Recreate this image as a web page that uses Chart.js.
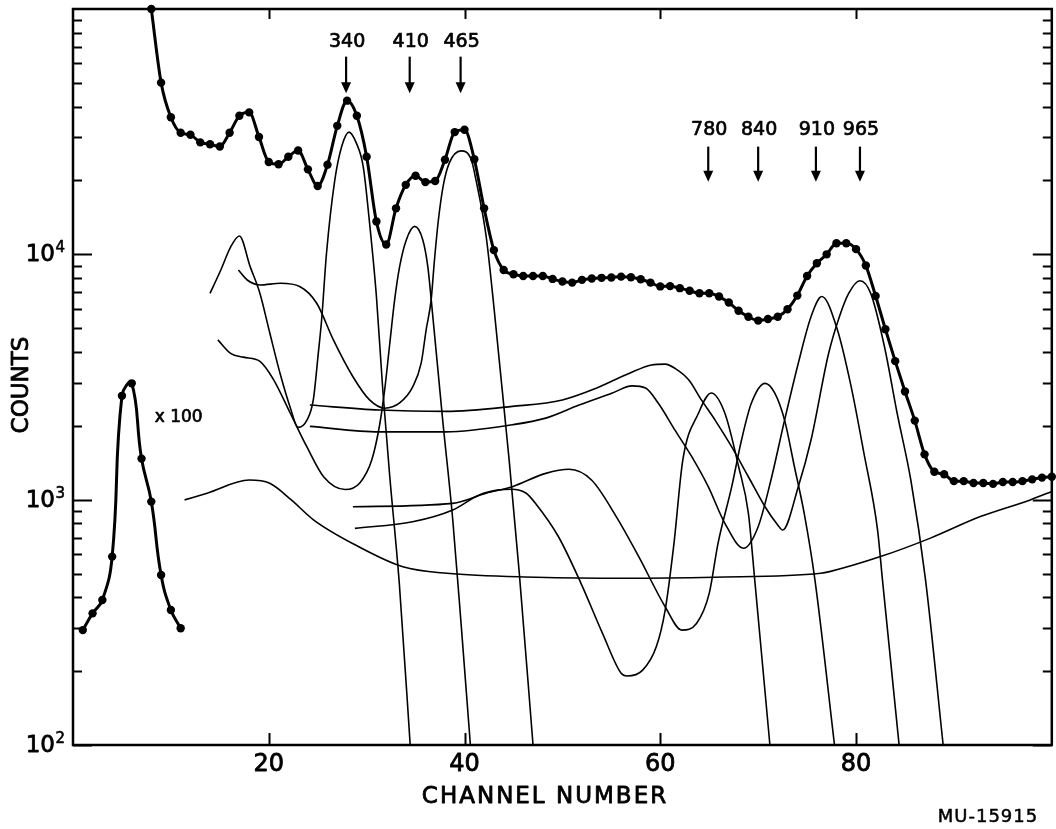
<!DOCTYPE html>
<html>
<head>
<meta charset="utf-8">
<script src="https://cdn.jsdelivr.net/npm/chart.js@4.4.1/dist/chart.umd.min.js"></script>
<style>
  html, body { margin: 0; padding: 0; background: #fff; }
  canvas { display: block; }
</style>
</head>
<body>
<canvas id="c" width="1056" height="829"></canvas>
<script>
// Measured gamma spectrum (counts per channel)
const spectrumChannels = [8, 9, 10, 11, 12, 13, 14, 15, 16, 17, 18, 19, 20, 21, 22, 23, 24, 25, 26, 27, 28, 29,
  30, 31, 32, 33, 34, 35, 36, 37, 38, 39, 40, 41, 42, 43, 44, 45, 46, 47, 48, 49, 50, 51, 52, 53, 54, 55, 56,
  57, 58, 59, 60, 61, 62, 63, 64, 65, 66, 67, 68, 69, 70, 71, 72, 73, 74, 75, 76, 77, 78, 79, 80, 81, 82, 83,
  84, 85, 86, 87, 88, 89, 90, 91, 92, 93, 94, 95, 96, 97, 98, 99, 100];
const spectrumCounts = [100000, 50100, 36200, 31300, 30700, 28600, 28100, 27500, 31300, 36700, 37900, 30100,
  23800, 23300, 25000, 26500, 22200, 19000, 23200, 33400, 42300, 36700, 25000, 13600, 10960, 15400, 19200,
  20900, 19700, 19900, 24300, 31500, 32200, 24400, 15400, 10400, 8630, 8300, 8160, 8160, 8160, 7940, 7750,
  7670, 7870, 7970, 8020, 8050, 8110, 8070, 7910, 7670, 7400, 7420, 7280, 7100, 6940, 6940, 6730, 6360, 5890,
  5570, 5370, 5450, 5570, 5970, 6790, 8160, 9200, 10000, 11100, 11100, 10500, 9000, 6760, 4950, 3670, 2760,
  2100, 1530, 1300, 1270, 1190, 1190, 1170, 1170, 1160, 1180, 1180, 1190, 1210, 1230, 1240];

// Low-channel peak, plotted scaled down by 100
const lowChannels = [1, 2, 3, 4, 5, 6, 7, 8, 9, 10, 11];
const lowCounts = [294, 344, 390, 586, 2650, 2980, 1470, 982, 493, 355, 299];

// Resolved components, [channel, counts]
const backgroundCurve = [[11.4, 998], [13.7, 1062], [18.0, 1202], [20.1, 1166], [22.3, 998], [24.6, 826],
  [29.2, 643], [33.7, 533], [38.2, 501], [47.3, 483], [56.4, 478], [65.5, 483], [76.4, 501], [77.3, 509],
  [82.5, 586], [87.6, 697], [92.7, 853], [97.8, 998], [100, 1080]];
const curve340 = [[14.0, 6930], [15.1, 8630], [16.1, 10700], [17.0, 11880], [18.1, 8910], [19.1, 6930],
  [20.1, 4790], [21.2, 3220], [22.2, 2370], [23.0, 1970], [23.9, 2110], [24.55, 2550], [25.06, 3950],
  [25.4, 5400], [25.9, 10100], [26.75, 20100], [27.45, 27500], [28.2, 31500], [28.95, 28400], [29.65, 22800],
  [30.3, 13400], [31.0, 6730], [31.65, 2800], [32.35, 1260], [33.35, 449], [34.45, 100]];
const curve410 = [[14.8, 4480], [16.1, 3950], [17.4, 3810], [19.1, 3660], [20.5, 3080], [22.2, 2250],
  [23.9, 1640], [25.6, 1240], [27.8, 1100], [29.3, 1170], [30.52, 1450], [31.33, 2020], [31.84, 2800],
  [32.35, 4280], [32.86, 6520], [33.37, 8910], [34.05, 11450], [34.9, 13000], [35.74, 11450], [36.25, 8910],
  [36.6, 6520], [37.77, 2110], [38.8, 826], [39.7, 294], [40.6, 100]];
const curve465 = [[16.9, 8630], [17.8, 7860], [19.1, 7500], [21.2, 7620], [23.2, 7380], [24.9, 6320],
  [26.6, 4480], [28.6, 3170], [30.3, 2550], [31.84, 2360], [33.37, 2480], [34.72, 2890], [35.57, 3600],
  [36.08, 4920], [36.59, 6520], [36.93, 9480], [37.33, 13800], [37.84, 19200], [38.45, 23600], [39.64, 26400],
  [40.69, 24300], [41.17, 20100], [42.19, 12000], [42.93, 6520], [43.54, 3720], [44.56, 1450], [45.57, 516],
  [47.0, 100]];
const curve780 = [[28.8, 764], [34.7, 813], [38.8, 908], [41.5, 1045], [43.5, 1096], [44.8, 1103], [46.3, 1062],
  [47.3, 960], [49.6, 706], [51.9, 456], [54.1, 285], [56.0, 196], [56.6, 191], [58.2, 202],
  [59.6, 252], [60.5, 355], [61.4, 664], [62.3, 1450], [63.9, 2250], [65.2, 2720], [66.6, 2250], [68.0, 1365],
  [69.0, 881], [69.65, 471], [71.2, 100]];
const curve840 = [[28.6, 936], [38.8, 966], [42.2, 1062], [44.9, 1130], [48.3, 1280], [50.7, 1330], [53.0, 1200],
  [55.5, 853], [57.8, 586], [60.5, 366], [62.2, 294], [63.7, 313], [65.0, 415], [65.9, 664], [67.3, 1130],
  [68.3, 1750], [69.3, 2470], [70.7, 2980], [71.7, 2720], [72.7, 2110], [73.7, 1365], [74.7, 881], [75.8, 471],
  [77.8, 100]];
const curve910 = [[24.2, 1990], [31.3, 1890], [38.1, 1890], [44.9, 2020], [48.3, 2150], [51.7, 2430],
  [55.1, 2720], [57.1, 2910], [58.5, 2850], [59.8, 2470], [61.5, 1920], [63.2, 1500], [64.9, 1130], [66.6, 801],
  [68.5, 634], [70.0, 776], [71.3, 1200], [72.7, 2110], [74.1, 3600], [75.4, 5570], [76.5, 6730], [78.1, 4920],
  [79.5, 2890], [80.8, 1550], [82.2, 752], [82.7, 471], [84.4, 100]];
const curve965 = [[24.2, 2430], [31.3, 2320], [38.1, 2290], [44.9, 2400], [50.0, 2550], [53.4, 2840],
  [56.8, 3270], [59.1, 3540], [60.5, 3570], [61.5, 3430], [62.9, 3080], [64.2, 2550], [65.6, 2110], [67.3, 1640],
  [69.0, 1240], [70.7, 936], [72.0, 789], [72.5, 752], [74.1, 1130], [75.4, 1750], [77.2, 3950], [78.3, 5570],
  [79.25, 6930], [80.4, 7800], [81.5, 6930], [82.9, 4210], [84.2, 2250], [85.6, 1200], [87.1, 471], [88.9, 100]];

// Energy markers (keV) above the peaks
const markerLabels = ['340', '410', '465', '780', '840', '910', '965'];
const markerChannels = [27.9, 34.4, 39.6, 64.9, 70.0, 75.9, 80.4];
const markerTipCounts = [45400, 45400, 45400, 19780, 19780, 19780, 19780];
const markerTailCounts = [63950, 63950, 63950, 27480, 27480, 27480, 27480];
const markerTextCounts = [73450, 73450, 73450, 32140, 32140, 32140, 32140];

const xTickValues = [20, 40, 60, 80];
const yDecades = [100, 1000, 10000];
const yDecadeLabels = [['10', '2'], ['10', '3'], ['10', '4']];

const FONT = '"DejaVu Sans", sans-serif';
const toPoints = pairs => pairs.map(([x, y]) => ({ x, y }));
const zip = (xs, ys) => xs.map((x, i) => ({ x, y: ys[i] }));

const thin = (data) => ({
  data: toPoints(data),
  borderColor: '#000',
  borderWidth: 1.6,
  pointRadius: 0,
  fill: false,
  tension: 0.4,
  cubicInterpolationMode: 'monotone'
});

// filled text with a light outline, for the heavier lettering
function letter(ctx, text, x, y, weight) {
  ctx.fillText(text, x, y);
  ctx.lineWidth = weight;
  ctx.strokeText(text, x, y);
}

const framePlugin = {
  id: 'frame',
  afterDraw(chart) {
    const { ctx, chartArea: a } = chart;
    const xs = chart.scales.x, ys = chart.scales.y;
    ctx.save();
    ctx.strokeStyle = '#000';
    ctx.fillStyle = '#000';
    ctx.lineCap = 'butt';

    // frame
    ctx.lineWidth = 2.5;
    ctx.strokeRect(a.left, a.top, a.right - a.left, a.bottom - a.top);

    // inward ticks on the log axes
    ctx.lineWidth = 2;
    for (let e = 2; e <= 4; e++) {
      for (let m = 1; m <= 9; m++) {
        const v = m * Math.pow(10, e);
        const y = Math.round(ys.getPixelForValue(v)) + 0.5;
        const len = m === 1 ? 19 : 9;
        ctx.beginPath();
        ctx.moveTo(a.left, y); ctx.lineTo(a.left + len, y);
        ctx.moveTo(a.right, y); ctx.lineTo(a.right - len, y);
        ctx.stroke();
      }
    }
    // inward ticks on the channel axes
    xTickValues.forEach(v => {
      const x = Math.round(xs.getPixelForValue(v)) + 0.5;
      ctx.beginPath();
      ctx.moveTo(x, a.bottom); ctx.lineTo(x, a.bottom - 12);
      ctx.moveTo(x, a.top); ctx.lineTo(x, a.top + 10);
      ctx.stroke();
    });

    // tick labels
    ctx.lineJoin = 'round';
    ctx.font = '24px ' + FONT;
    ctx.textAlign = 'center';
    ctx.textBaseline = 'middle';
    xTickValues.forEach(v => letter(ctx, String(v), xs.getPixelForValue(v), a.bottom + 20, 0.8));
    yDecades.forEach((v, i) => {
      const y = ys.getPixelForValue(v);
      ctx.font = '23px ' + FONT;
      ctx.textAlign = 'right';
      ctx.textBaseline = 'middle';
      letter(ctx, yDecadeLabels[i][0], 55, y + 1, 0.8);
      ctx.font = '15px ' + FONT;
      ctx.textAlign = 'left';
      letter(ctx, yDecadeLabels[i][1], 55.5, y - 6, 0.6);
    });

    // axis titles
    ctx.font = '23px ' + FONT;
    ctx.textAlign = 'center';
    ctx.textBaseline = 'middle';
    ctx.letterSpacing = '2px';
    letter(ctx, 'CHANNEL NUMBER', 545, 797, 0.8);
    ctx.letterSpacing = '0px';
    ctx.save();
    ctx.translate(22, 385);
    ctx.rotate(-Math.PI / 2);
    letter(ctx, 'COUNTS', 0, 0, 0.8);
    ctx.restore();

    // energy markers
    markerChannels.forEach((c, i) => {
      const x = xs.getPixelForValue(c);
      const yTip = ys.getPixelForValue(markerTipCounts[i]);
      const yTail = ys.getPixelForValue(markerTailCounts[i]);
      ctx.lineWidth = 2.2;
      ctx.beginPath();
      ctx.moveTo(x, yTail); ctx.lineTo(x, yTip - 8);
      ctx.stroke();
      ctx.beginPath();
      ctx.moveTo(x - 5, yTip - 11); ctx.lineTo(x + 5, yTip - 11); ctx.lineTo(x, yTip);
      ctx.closePath(); ctx.fill();
      ctx.font = '19px ' + FONT;
      ctx.textAlign = 'center';
      ctx.textBaseline = 'middle';
      letter(ctx, markerLabels[i], x + 1, ys.getPixelForValue(markerTextCounts[i]), 0.7);
    });

    // scale note on the low-channel peak
    ctx.font = '17px ' + FONT;
    ctx.textAlign = 'left';
    ctx.textBaseline = 'middle';
    letter(ctx, 'x 100', xs.getPixelForValue(8.35), ys.getPixelForValue(2153), 0.7);

    // drawing number
    ctx.font = '18px ' + FONT;
    ctx.textAlign = 'center';
    ctx.letterSpacing = '1px';
    letter(ctx, 'MU-15915', 988, 817, 0.5);
    ctx.letterSpacing = '0px';
    ctx.restore();
  }
};

new Chart(document.getElementById('c'), {
  type: 'line',
  data: {
    datasets: [
      thin(backgroundCurve),
      thin(curve340),
      thin(curve410),
      thin(curve465),
      thin(curve780),
      thin(curve840),
      thin(curve910),
      thin(curve965),
      {
        data: zip(lowChannels, lowCounts),
        borderColor: '#000',
        borderWidth: 3,
        pointRadius: 4.2,
        pointBackgroundColor: '#000',
        pointBorderWidth: 0,
        tension: 0.45,
        fill: false
      },
      {
        data: zip(spectrumChannels, spectrumCounts),
        borderColor: '#000',
        borderWidth: 3,
        pointRadius: 4.2,
        pointBackgroundColor: '#000',
        pointBorderWidth: 0,
        tension: 0.4,
        cubicInterpolationMode: 'monotone',
        fill: false,
        clip: 6
      }
    ]
  },
  options: {
    responsive: false,
    animation: false,
    devicePixelRatio: 1,
    layout: { padding: { left: 73, right: 1, top: 9, bottom: 84 } },
    plugins: { legend: { display: false }, tooltip: { enabled: false }, title: { display: false } },
    scales: {
      x: { type: 'linear', min: 0, max: 100, display: false },
      y: { type: 'logarithmic', min: 100, max: 100000, display: false }
    }
  },
  plugins: [framePlugin]
});
</script>
</body>
</html>
